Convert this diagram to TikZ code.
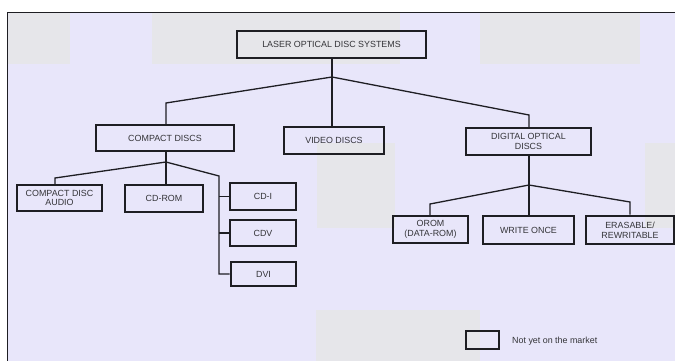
\documentclass[tikz,border=0pt]{standalone}
\usepackage{fontspec}
\setmainfont{Liberation Sans}
\definecolor{bglav}{RGB}{232,230,250}
\definecolor{bggrey}{RGB}{230,230,234}
\definecolor{ink}{RGB}{30,30,35}
\begin{document}
\begin{tikzpicture}[x=1pt,y=-1pt,
  box/.style={draw=ink,line width=1.3pt,rectangle,inner sep=0pt,align=center,
    font=\fontsize{8.9}{9.8}\selectfont,text=ink!90},
  newbox/.style={box,line width=2.8pt},
  conn/.style={draw=ink,line width=1.3pt,line join=miter}]
\useasboundingbox (0,0) rectangle (675,361);
\fill[white] (0,0) rectangle (675,361);
\fill[bglav] (7,13) rectangle (675,361);
\fill[bggrey] (7,13) rectangle (70,64);
\fill[bggrey] (152,13) rectangle (400,64);
\fill[bggrey] (480,13) rectangle (640,64);
\fill[bggrey] (317,143) rectangle (395,228);
\fill[bggrey] (645,143) rectangle (675,228);
\fill[bggrey] (316,310) rectangle (480,361);
\draw[ink,line width=1pt] (7,361) -- (7,13) -- (675,13);

\node[box,minimum width=189pt,minimum height=27pt] (top) at (331.5,44.5) {LASER OPTICAL DISC SYSTEMS};
\node[box,minimum width=138pt,minimum height=26pt] (compact) at (165,138) {COMPACT DISCS};
\node[box,minimum width=100pt,minimum height=27pt] (video) at (334,140.5) {VIDEO DISCS};
\node[box,minimum width=125pt,minimum height=27pt] (digital) at (528.5,141.5) {DIGITAL OPTICAL\\DISCS};
\node[box,minimum width=85pt,minimum height=26pt] (cda) at (59.5,198) {COMPACT DISC\\AUDIO};
\node[box,minimum width=78pt,minimum height=27pt] (cdrom) at (164,198.5) {CD-ROM};
\node[newbox,minimum width=66pt,minimum height=27pt] (cdi) at (263,196.5) {CD-I};
\node[newbox,minimum width=66pt,minimum height=26pt] (cdv) at (263,233) {CDV};
\node[newbox,minimum width=65pt,minimum height=24pt] (dvi) at (263.5,274) {DVI};
\node[box,minimum width=75pt,minimum height=27pt] (orom) at (430.5,229.5) {OROM\\(DATA-ROM)};
\node[box,minimum width=91pt,minimum height=28pt] (write) at (528.5,230) {WRITE ONCE};
\node[newbox,minimum width=88pt,minimum height=28pt] (eras) at (630,230) {ERASABLE/\\REWRITABLE};
\node[newbox,minimum width=33pt,minimum height=18pt] (legend) at (482.5,340) {};
\node[anchor=west,inner sep=0pt,font=\fontsize{8.9}{9.8}\selectfont,text=ink!90] (legtext) at (512,341) {Not yet on the market};

\coordinate (j0) at (332,77);
\coordinate (bl) at (166,103);
\coordinate (br) at (529,115);
\draw[conn] (j0 |- top.south) -- (j0);
\draw[conn] (j0) -- (j0 |- video.north);
\draw[conn] (j0) -- (bl) -- (bl |- compact.north);
\draw[conn] (j0) -- (br) -- (br |- digital.north);

\coordinate (j1) at (166,162);
\coordinate (a1) at (55,178);
\coordinate (a2) at (219,176);
\draw[conn] (j1 |- compact.south) -- (j1);
\draw[conn] (j1) -- (j1 |- cdrom.north);
\draw[conn] (j1) -- (a1) -- (a1 |- cda.north);
\draw[conn] (j1) -- (a2) -- (a2 |- dvi.west) -- (dvi.west);
\draw[conn] (a2 |- cdi.west) -- (cdi.west);
\draw[conn] (a2 |- cdv.west) -- (cdv.west);

\coordinate (j2) at (529,185);
\coordinate (d1) at (430,204);
\coordinate (d2) at (630,202);
\draw[conn] (j2 |- digital.south) -- (j2);
\draw[conn] (j2) -- (j2 |- write.north);
\draw[conn] (j2) -- (d1) -- (d1 |- orom.north);
\draw[conn] (j2) -- (d2) -- (d2 |- eras.north);
\end{tikzpicture}
\end{document}
